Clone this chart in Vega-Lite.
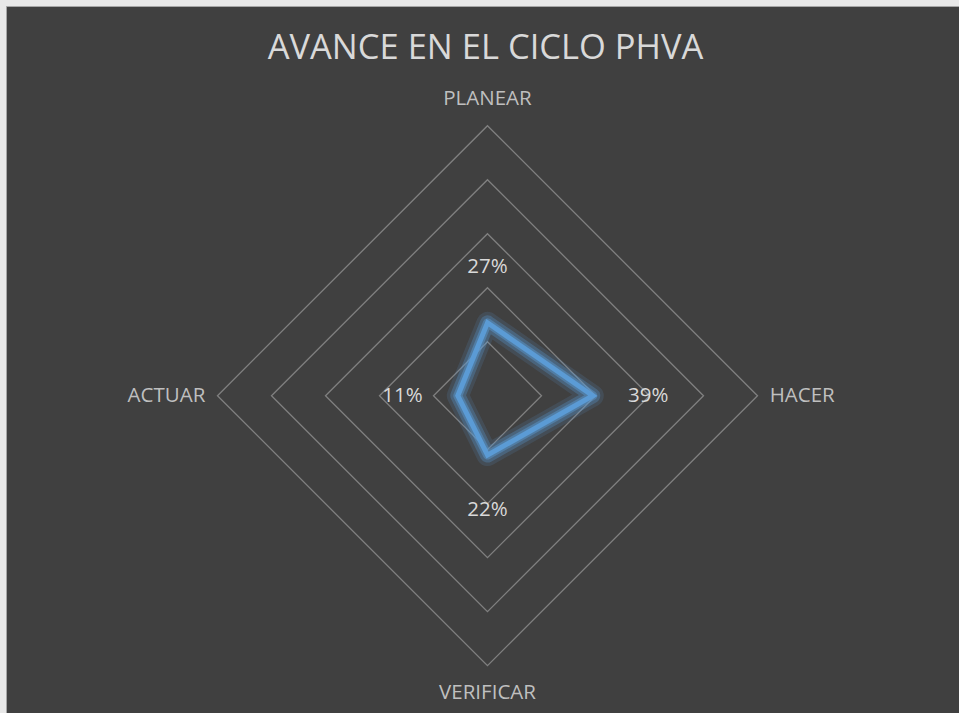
{
  "$schema": "https://vega.github.io/schema/vega-lite/v6.json",
  "width": 953,
  "height": 707,
  "autosize": {"type": "none"},
  "padding": {"left": 6, "top": 6, "right": 0, "bottom": 0},
  "background": "#e8e8e8",
  "config": {
    "view": {"fill": "#404040", "stroke": "#a6a6a6", "strokeWidth": 1},
    "font": "Open Sans"
  },
  "title": {
    "text": "AVANCE EN EL CICLO PHVA",
    "font": "Open Sans",
    "fontSize": 34.5,
    "fontWeight": "normal",
    "color": "#d9d9d9",
    "anchor": "middle",
    "baseline": "middle",
    "offset": -77,
    "dx": 3
  },
  "datasets": {
    "scores": [
      {"axis": "PLANEAR", "value": 0.27, "idx": 0},
      {"axis": "HACER", "value": 0.39, "idx": 1},
      {"axis": "VERIFICAR", "value": 0.22, "idx": 2},
      {"axis": "ACTUAR", "value": 0.11, "idx": 3}
    ],
    "grid": [
      {"level": 0.2, "idx": 0}, {"level": 0.2, "idx": 1}, {"level": 0.2, "idx": 2}, {"level": 0.2, "idx": 3},
      {"level": 0.4, "idx": 0}, {"level": 0.4, "idx": 1}, {"level": 0.4, "idx": 2}, {"level": 0.4, "idx": 3},
      {"level": 0.6, "idx": 0}, {"level": 0.6, "idx": 1}, {"level": 0.6, "idx": 2}, {"level": 0.6, "idx": 3},
      {"level": 0.8, "idx": 0}, {"level": 0.8, "idx": 1}, {"level": 0.8, "idx": 2}, {"level": 0.8, "idx": 3},
      {"level": 1.0, "idx": 0}, {"level": 1.0, "idx": 1}, {"level": 1.0, "idx": 2}, {"level": 1.0, "idx": 3}
    ]
  },
  "resolve": {"scale": {"x": "shared", "y": "shared"}},
  "layer": [
    {
      "data": {"name": "grid"},
      "transform": [
        {"calculate": "datum.idx * PI / 2", "as": "ang"},
        {"calculate": "datum.level * sin(datum.ang)", "as": "gx"},
        {"calculate": "datum.level * cos(datum.ang)", "as": "gy"}
      ],
      "mark": {"type": "line", "interpolate": "linear-closed", "stroke": "#808080", "strokeWidth": 1.3},
      "encoding": {
        "x": {"field": "gx", "type": "quantitative", "scale": {"domain": [-1.7833, 1.7463], "nice": false, "zero": false}, "axis": null},
        "y": {"field": "gy", "type": "quantitative", "scale": {"domain": [-1.1752, 1.4433], "nice": false, "zero": false}, "axis": null},
        "detail": {"field": "level", "type": "nominal"},
        "order": {"field": "idx", "type": "quantitative"}
      }
    },
    {
      "data": {"name": "scores"},
      "transform": [
        {"calculate": "datum.idx * PI / 2", "as": "ang"},
        {"calculate": "datum.value * sin(datum.ang)", "as": "px"},
        {"calculate": "datum.value * cos(datum.ang)", "as": "py"}
      ],
      "layer": [
        {
          "mark": {"type": "line", "interpolate": "linear-closed", "stroke": "#5B9BD5", "strokeWidth": 22, "opacity": 0.15, "strokeJoin": "round"},
          "encoding": {
            "x": {"field": "px", "type": "quantitative"},
            "y": {"field": "py", "type": "quantitative"},
            "order": {"field": "idx", "type": "quantitative"}
          }
        },
        {
          "mark": {"type": "line", "interpolate": "linear-closed", "stroke": "#5B9BD5", "strokeWidth": 15, "opacity": 0.3, "strokeJoin": "round"},
          "encoding": {
            "x": {"field": "px", "type": "quantitative"},
            "y": {"field": "py", "type": "quantitative"},
            "order": {"field": "idx", "type": "quantitative"}
          }
        },
        {
          "mark": {"type": "line", "interpolate": "linear-closed", "stroke": "#5B9BD5", "strokeWidth": 9, "opacity": 0.45, "strokeJoin": "round"},
          "encoding": {
            "x": {"field": "px", "type": "quantitative"},
            "y": {"field": "py", "type": "quantitative"},
            "order": {"field": "idx", "type": "quantitative"}
          }
        },
        {
          "mark": {"type": "line", "interpolate": "linear-closed", "stroke": "#5B9BD5", "strokeWidth": 5, "strokeJoin": "miter"},
          "encoding": {
            "x": {"field": "px", "type": "quantitative"},
            "y": {"field": "py", "type": "quantitative"},
            "order": {"field": "idx", "type": "quantitative"}
          }
        }
      ]
    },
    {
      "data": {"name": "scores"},
      "transform": [
        {"calculate": "datum.idx * PI / 2", "as": "ang"},
        {"calculate": "(datum.value + 0.205) * sin(datum.ang)", "as": "lx"},
        {"calculate": "(datum.value + 0.205) * cos(datum.ang)", "as": "ly"}
      ],
      "mark": {"type": "text", "fontSize": 20.5, "color": "#d9d9d9", "align": "center", "baseline": "middle"},
      "encoding": {
        "x": {"field": "lx", "type": "quantitative"},
        "y": {"field": "ly", "type": "quantitative"},
        "text": {"field": "value", "type": "quantitative", "format": ".0%"}
      }
    },
    {
      "data": {"name": "scores"},
      "transform": [
        {"filter": "datum.idx == 0 || datum.idx == 2"},
        {"calculate": "datum.idx * PI / 2", "as": "ang"},
        {"calculate": "1.1 * sin(datum.ang)", "as": "ax"},
        {"calculate": "1.1 * cos(datum.ang)", "as": "ay"}
      ],
      "mark": {"type": "text", "fontSize": 20.5, "color": "#bfbfbf", "align": "center", "baseline": "middle"},
      "encoding": {
        "x": {"field": "ax", "type": "quantitative"},
        "y": {"field": "ay", "type": "quantitative"},
        "text": {"field": "axis", "type": "nominal"}
      }
    },
    {
      "data": {"name": "scores"},
      "transform": [
        {"filter": "datum.idx == 1"},
        {"calculate": "1.045", "as": "ax"},
        {"calculate": "0", "as": "ay"}
      ],
      "mark": {"type": "text", "fontSize": 20.5, "color": "#bfbfbf", "align": "left", "baseline": "middle"},
      "encoding": {
        "x": {"field": "ax", "type": "quantitative"},
        "y": {"field": "ay", "type": "quantitative"},
        "text": {"field": "axis", "type": "nominal"}
      }
    },
    {
      "data": {"name": "scores"},
      "transform": [
        {"filter": "datum.idx == 3"},
        {"calculate": "-1.045", "as": "ax"},
        {"calculate": "0", "as": "ay"}
      ],
      "mark": {"type": "text", "fontSize": 20.5, "color": "#bfbfbf", "align": "right", "baseline": "middle"},
      "encoding": {
        "x": {"field": "ax", "type": "quantitative"},
        "y": {"field": "ay", "type": "quantitative"},
        "text": {"field": "axis", "type": "nominal"}
      }
    }
  ]
}
